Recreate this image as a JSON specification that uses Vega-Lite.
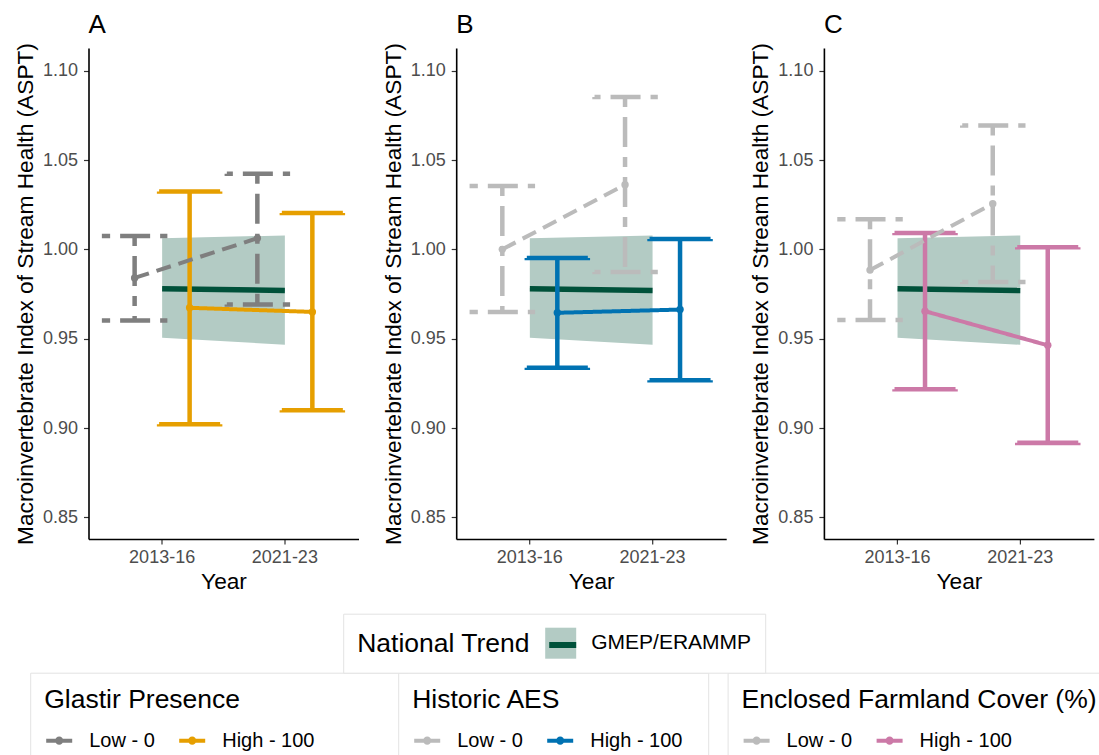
{
  "$schema": "https://vega.github.io/schema/vega-lite/v6.json",
  "background": "white",
  "padding": {"left": 13.5, "top": 12, "right": 0, "bottom": 0},
  "bounds": "flush",
  "spacing": 97.7,
  "config": {
    "font": "Liberation Sans",
    "view": {"stroke": null},
    "axis": {
      "grid": false,
      "domainColor": "#000000",
      "domainWidth": 1.6,
      "tickColor": "#333333",
      "tickWidth": 1.2,
      "tickSize": 5,
      "labelColor": "#4D4D4D",
      "labelFontSize": 18,
      "labelFont": "Liberation Sans",
      "titleFont": "Liberation Sans",
      "titleFontSize": 22.7,
      "titleFontWeight": "normal",
      "titleColor": "#000000"
    },
    "axisX": {"labelPadding": 4, "titlePadding": 4, "labelAngle": 0},
    "axisY": {"labelPadding": 6, "titlePadding": 5},
    "title": {"fontSize": 26, "fontWeight": "normal", "anchor": "start", "frame": "group", "color": "#000000", "font": "Liberation Sans", "offset": 4.3},
    "legend": {
      "titleFont": "Liberation Sans",
      "labelFont": "Liberation Sans",
      "titleFontWeight": "normal",
      "titleColor": "#000000",
      "labelColor": "#000000",
      "titleFontSize": 26.5,
      "labelFontSize": 20,
      "titleLimit": 600,
      "labelLimit": 500,
      "padding": 14,
      "strokeColor": "#E3E3E3",
      "fillColor": "#FFFFFF",
      "labelOffset": 15,
      "columnPadding": 16,
      "titlePadding": 12,
      "symbolStrokeWidth": 4
    }
  },
  "datasets": {
    "national": [
      {"year": "2013-16", "mean": 0.978, "lo": 0.9506, "hi": 1.0062, "trend": "GMEP/ERAMMP"},
      {"year": "2021-23", "mean": 0.977, "lo": 0.9466, "hi": 1.0078, "trend": "GMEP/ERAMMP"}
    ],
    "glastir": [
      {"year": "2013-16", "level": "Low - 0", "mean": 0.984, "lo": 0.9602, "hi": 1.0075},
      {"year": "2021-23", "level": "Low - 0", "mean": 1.0062, "lo": 0.9692, "hi": 1.0423},
      {"year": "2013-16", "level": "High - 100", "mean": 0.9673, "lo": 0.9021, "hi": 1.0324},
      {"year": "2021-23", "level": "High - 100", "mean": 0.965, "lo": 0.9099, "hi": 1.0203}
    ],
    "aes": [
      {"year": "2013-16", "level": "Low - 0", "mean": 1.0, "lo": 0.965, "hi": 1.0354},
      {"year": "2021-23", "level": "Low - 0", "mean": 1.0362, "lo": 0.9874, "hi": 1.0853},
      {"year": "2013-16", "level": "High - 100", "mean": 0.9645, "lo": 0.9338, "hi": 0.9952},
      {"year": "2021-23", "level": "High - 100", "mean": 0.9663, "lo": 0.9268, "hi": 1.0058}
    ],
    "farmland": [
      {"year": "2013-16", "level": "Low - 0", "mean": 0.9884, "lo": 0.9605, "hi": 1.0168},
      {"year": "2021-23", "level": "Low - 0", "mean": 1.0256, "lo": 0.9818, "hi": 1.0693},
      {"year": "2013-16", "level": "High - 100", "mean": 0.9654, "lo": 0.9217, "hi": 1.0092},
      {"year": "2021-23", "level": "High - 100", "mean": 0.9463, "lo": 0.8917, "hi": 1.0012}
    ]
  },
  "resolve": {
    "scale": {"color": "independent", "strokeDash": "independent", "fill": "shared", "stroke": "shared"},
    "legend": {"color": "independent", "strokeDash": "independent"}
  },
  "hconcat": [
    {
      "width": 270,
      "height": 491,
      "title": {"text": "A"},
      "resolve": {"scale": {"strokeDash": "independent"}},
      "layer": [
        {
          "data": {"name": "national"},
          "mark": {"type": "area", "opacity": 1},
          "encoding": {
            "x": {"field": "year", "type": "ordinal", "sort": ["2013-16", "2021-23"], "scale": {"type": "band", "paddingInner": 0, "paddingOuter": 0.1}, "axis": {"bandPosition": 0.5}, "title": "Year"},
            "y": {"field": "lo", "type": "quantitative", "scale": {"domain": [0.8379, 1.1127], "nice": false, "zero": false}, "axis": {"values": [0.85, 0.9, 0.95, 1.0, 1.05, 1.1], "format": ".2f"}, "title": "Macroinvertebrate Index of Stream Health (ASPT)"},
            "y2": {"field": "hi"},
            "fill": {"field": "trend", "type": "nominal", "scale": {"range": ["#B3CBC4"]}, "legend": {"title": "National Trend", "orient": "none", "legendX": 254.7, "legendY": 565.7, "titleOrient": "left", "titleAnchor": "middle", "titleBaseline": "middle", "titlePadding": 15, "symbolType": "square", "symbolSize": 961, "symbolStrokeWidth": 0, "labelFontSize": 21, "zindex": 1}}
          }
        },
        {
          "data": {"name": "national"},
          "mark": {"type": "line", "strokeWidth": 5.5, "opacity": 1},
          "encoding": {
            "x": {"field": "year", "type": "ordinal", "sort": ["2013-16", "2021-23"], "title": "Year"},
            "y": {"field": "mean", "type": "quantitative", "title": "Macroinvertebrate Index of Stream Health (ASPT)"},
            "stroke": {"datum": "GMEP/ERAMMP", "type": "nominal", "scale": {"range": ["#00513A"]}, "legend": {"title": null, "orient": "none", "legendX": 457.7, "legendY": 580.5, "padding": 0, "strokeColor": "transparent", "fillColor": "transparent", "symbolType": "stroke", "symbolSize": 729, "symbolStrokeWidth": 6, "labelExpr": "''", "zindex": 2}}
          }
        },
        {
          "data": {"name": "glastir"},
          "mark": {"type": "rule", "strokeWidth": 4.5, "opacity": 1},
          "encoding": {
            "x": {"field": "year", "type": "ordinal", "sort": ["2013-16", "2021-23"], "title": "Year"},
            "xOffset": {"field": "level", "type": "nominal", "sort": ["Low - 0", "High - 100"], "scale": {"type": "band", "range": [6.35, 116.35], "paddingInner": 0, "paddingOuter": 0}},
            "y": {"field": "hi", "type": "quantitative", "title": "Macroinvertebrate Index of Stream Health (ASPT)"},
            "y2": {"field": "lo"},
            "color": {"field": "level", "type": "nominal", "scale": {"domain": ["Low - 0", "High - 100"], "range": ["#7F7F7F", "#E69F00"]}, "legend": {"title": "Glastir Presence", "orient": "none", "legendX": -58.3, "legendY": 624.7, "direction": "horizontal", "symbolType": "M-1,0H1M-0.16,0A0.16,0.16,0,1,1,0.16,0A0.16,0.16,0,1,1,-0.16,0Z", "symbolSize": 676, "labelExpr": "datum.label == 'High - 100' ? datum.label + '\u00a0\u00a0\u00a0\u00a0\u00a0\u00a0\u00a0\u00a0\u00a0\u00a0\u00a0\u00a0\u00a0\u00a0\u200b' : datum.label"}},
            "strokeDash": {"field": "level", "type": "nominal", "scale": {"domain": ["Low - 0", "High - 100"], "range": [[10, 10, 30, 10], [1, 0]]}, "legend": null}
          }
        },
        {
          "data": {"name": "glastir"},
          "mark": {"type": "tick", "filled": false, "size": 61, "thickness": 0.01, "strokeWidth": 4.5, "strokeDashOffset": 4, "opacity": 1},
          "encoding": {
            "x": {"field": "year", "type": "ordinal", "sort": ["2013-16", "2021-23"], "title": "Year"},
            "xOffset": {"field": "level", "type": "nominal", "sort": ["Low - 0", "High - 100"]},
            "y": {"field": "hi", "type": "quantitative", "title": "Macroinvertebrate Index of Stream Health (ASPT)"},
            "color": {"field": "level", "type": "nominal"},
            "strokeDash": {"field": "level", "type": "nominal", "scale": {"domain": ["Low - 0", "High - 100"], "range": [[10, 10, 30, 10], [1, 0]]}, "legend": null}
          }
        },
        {
          "data": {"name": "glastir"},
          "mark": {"type": "tick", "filled": false, "size": 61, "thickness": 0.01, "strokeWidth": 4.5, "strokeDashOffset": 4, "opacity": 1},
          "encoding": {
            "x": {"field": "year", "type": "ordinal", "sort": ["2013-16", "2021-23"], "title": "Year"},
            "xOffset": {"field": "level", "type": "nominal", "sort": ["Low - 0", "High - 100"]},
            "y": {"field": "lo", "type": "quantitative", "title": "Macroinvertebrate Index of Stream Health (ASPT)"},
            "color": {"field": "level", "type": "nominal"},
            "strokeDash": {"field": "level", "type": "nominal", "scale": {"domain": ["Low - 0", "High - 100"], "range": [[10, 10, 30, 10], [1, 0]]}, "legend": null}
          }
        },
        {
          "data": {"name": "glastir"},
          "mark": {"type": "line", "strokeWidth": 4, "opacity": 1},
          "encoding": {
            "x": {"field": "year", "type": "ordinal", "sort": ["2013-16", "2021-23"], "title": "Year"},
            "xOffset": {"field": "level", "type": "nominal", "sort": ["Low - 0", "High - 100"]},
            "y": {"field": "mean", "type": "quantitative", "title": "Macroinvertebrate Index of Stream Health (ASPT)"},
            "color": {"field": "level", "type": "nominal"},
            "strokeDash": {"field": "level", "type": "nominal", "scale": {"domain": ["Low - 0", "High - 100"], "range": [[15, 8], [1, 0]]}, "legend": null}
          }
        },
        {
          "data": {"name": "glastir"},
          "mark": {"type": "point", "filled": true, "size": 55, "opacity": 1},
          "encoding": {
            "x": {"field": "year", "type": "ordinal", "sort": ["2013-16", "2021-23"], "title": "Year"},
            "xOffset": {"field": "level", "type": "nominal", "sort": ["Low - 0", "High - 100"]},
            "y": {"field": "mean", "type": "quantitative", "title": "Macroinvertebrate Index of Stream Health (ASPT)"},
            "color": {"field": "level", "type": "nominal"}
          }
        }
      ]
    },
    {
      "width": 270,
      "height": 491,
      "title": {"text": "B"},
      "resolve": {"scale": {"strokeDash": "independent"}},
      "layer": [
        {
          "data": {"name": "national"},
          "mark": {"type": "area", "opacity": 1},
          "encoding": {
            "x": {"field": "year", "type": "ordinal", "sort": ["2013-16", "2021-23"], "scale": {"type": "band", "paddingInner": 0, "paddingOuter": 0.1}, "axis": {"bandPosition": 0.5}, "title": "Year"},
            "y": {"field": "lo", "type": "quantitative", "scale": {"domain": [0.8379, 1.1127], "nice": false, "zero": false}, "axis": {"values": [0.85, 0.9, 0.95, 1.0, 1.05, 1.1], "format": ".2f"}, "title": "Macroinvertebrate Index of Stream Health (ASPT)"},
            "y2": {"field": "hi"},
            "fill": {"field": "trend", "type": "nominal", "scale": {"range": ["#B3CBC4"]}, "legend": {"title": "National Trend", "orient": "none", "legendX": 254.7, "legendY": 565.7, "titleOrient": "left", "titleAnchor": "middle", "titleBaseline": "middle", "titlePadding": 15, "symbolType": "square", "symbolSize": 961, "symbolStrokeWidth": 0, "labelFontSize": 21, "zindex": 1}}
          }
        },
        {
          "data": {"name": "national"},
          "mark": {"type": "line", "strokeWidth": 5.5, "opacity": 1},
          "encoding": {
            "x": {"field": "year", "type": "ordinal", "sort": ["2013-16", "2021-23"], "title": "Year"},
            "y": {"field": "mean", "type": "quantitative", "title": "Macroinvertebrate Index of Stream Health (ASPT)"},
            "stroke": {"datum": "GMEP/ERAMMP", "type": "nominal", "scale": {"range": ["#00513A"]}, "legend": {"title": null, "orient": "none", "legendX": 457.7, "legendY": 580.5, "padding": 0, "strokeColor": "transparent", "fillColor": "transparent", "symbolType": "stroke", "symbolSize": 729, "symbolStrokeWidth": 6, "labelExpr": "''", "zindex": 2}}
          }
        },
        {
          "data": {"name": "aes"},
          "mark": {"type": "rule", "strokeWidth": 4.5, "opacity": 1},
          "encoding": {
            "x": {"field": "year", "type": "ordinal", "sort": ["2013-16", "2021-23"], "title": "Year"},
            "xOffset": {"field": "level", "type": "nominal", "sort": ["Low - 0", "High - 100"], "scale": {"type": "band", "range": [6.35, 116.35], "paddingInner": 0, "paddingOuter": 0}},
            "y": {"field": "hi", "type": "quantitative", "title": "Macroinvertebrate Index of Stream Health (ASPT)"},
            "y2": {"field": "lo"},
            "color": {"field": "level", "type": "nominal", "scale": {"domain": ["Low - 0", "High - 100"], "range": ["#BBBBBB", "#0072B2"]}, "legend": {"title": "Historic AES", "orient": "none", "legendX": -58, "legendY": 624.7, "direction": "horizontal", "symbolType": "M-1,0H1M-0.16,0A0.16,0.16,0,1,1,0.16,0A0.16,0.16,0,1,1,-0.16,0Z", "symbolSize": 676, "labelExpr": "datum.label == 'High - 100' ? datum.label + '\u00a0\u00a0\u200b' : datum.label"}},
            "strokeDash": {"field": "level", "type": "nominal", "scale": {"domain": ["Low - 0", "High - 100"], "range": [[10, 10, 30, 10], [1, 0]]}, "legend": null}
          }
        },
        {
          "data": {"name": "aes"},
          "mark": {"type": "tick", "filled": false, "size": 61, "thickness": 0.01, "strokeWidth": 4.5, "strokeDashOffset": 4, "opacity": 1},
          "encoding": {
            "x": {"field": "year", "type": "ordinal", "sort": ["2013-16", "2021-23"], "title": "Year"},
            "xOffset": {"field": "level", "type": "nominal", "sort": ["Low - 0", "High - 100"]},
            "y": {"field": "hi", "type": "quantitative", "title": "Macroinvertebrate Index of Stream Health (ASPT)"},
            "color": {"field": "level", "type": "nominal"},
            "strokeDash": {"field": "level", "type": "nominal", "scale": {"domain": ["Low - 0", "High - 100"], "range": [[10, 10, 30, 10], [1, 0]]}, "legend": null}
          }
        },
        {
          "data": {"name": "aes"},
          "mark": {"type": "tick", "filled": false, "size": 61, "thickness": 0.01, "strokeWidth": 4.5, "strokeDashOffset": 4, "opacity": 1},
          "encoding": {
            "x": {"field": "year", "type": "ordinal", "sort": ["2013-16", "2021-23"], "title": "Year"},
            "xOffset": {"field": "level", "type": "nominal", "sort": ["Low - 0", "High - 100"]},
            "y": {"field": "lo", "type": "quantitative", "title": "Macroinvertebrate Index of Stream Health (ASPT)"},
            "color": {"field": "level", "type": "nominal"},
            "strokeDash": {"field": "level", "type": "nominal", "scale": {"domain": ["Low - 0", "High - 100"], "range": [[10, 10, 30, 10], [1, 0]]}, "legend": null}
          }
        },
        {
          "data": {"name": "aes"},
          "mark": {"type": "line", "strokeWidth": 4, "opacity": 1},
          "encoding": {
            "x": {"field": "year", "type": "ordinal", "sort": ["2013-16", "2021-23"], "title": "Year"},
            "xOffset": {"field": "level", "type": "nominal", "sort": ["Low - 0", "High - 100"]},
            "y": {"field": "mean", "type": "quantitative", "title": "Macroinvertebrate Index of Stream Health (ASPT)"},
            "color": {"field": "level", "type": "nominal"},
            "strokeDash": {"field": "level", "type": "nominal", "scale": {"domain": ["Low - 0", "High - 100"], "range": [[15, 8], [1, 0]]}, "legend": null}
          }
        },
        {
          "data": {"name": "aes"},
          "mark": {"type": "point", "filled": true, "size": 55, "opacity": 1},
          "encoding": {
            "x": {"field": "year", "type": "ordinal", "sort": ["2013-16", "2021-23"], "title": "Year"},
            "xOffset": {"field": "level", "type": "nominal", "sort": ["Low - 0", "High - 100"]},
            "y": {"field": "mean", "type": "quantitative", "title": "Macroinvertebrate Index of Stream Health (ASPT)"},
            "color": {"field": "level", "type": "nominal"}
          }
        }
      ]
    },
    {
      "width": 270,
      "height": 491,
      "title": {"text": "C"},
      "resolve": {"scale": {"strokeDash": "independent"}},
      "layer": [
        {
          "data": {"name": "national"},
          "mark": {"type": "area", "opacity": 1},
          "encoding": {
            "x": {"field": "year", "type": "ordinal", "sort": ["2013-16", "2021-23"], "scale": {"type": "band", "paddingInner": 0, "paddingOuter": 0.1}, "axis": {"bandPosition": 0.5}, "title": "Year"},
            "y": {"field": "lo", "type": "quantitative", "scale": {"domain": [0.8379, 1.1127], "nice": false, "zero": false}, "axis": {"values": [0.85, 0.9, 0.95, 1.0, 1.05, 1.1], "format": ".2f"}, "title": "Macroinvertebrate Index of Stream Health (ASPT)"},
            "y2": {"field": "hi"},
            "fill": {"field": "trend", "type": "nominal", "scale": {"range": ["#B3CBC4"]}, "legend": {"title": "National Trend", "orient": "none", "legendX": 254.7, "legendY": 565.7, "titleOrient": "left", "titleAnchor": "middle", "titleBaseline": "middle", "titlePadding": 15, "symbolType": "square", "symbolSize": 961, "symbolStrokeWidth": 0, "labelFontSize": 21, "zindex": 1}}
          }
        },
        {
          "data": {"name": "national"},
          "mark": {"type": "line", "strokeWidth": 5.5, "opacity": 1},
          "encoding": {
            "x": {"field": "year", "type": "ordinal", "sort": ["2013-16", "2021-23"], "title": "Year"},
            "y": {"field": "mean", "type": "quantitative", "title": "Macroinvertebrate Index of Stream Health (ASPT)"},
            "stroke": {"datum": "GMEP/ERAMMP", "type": "nominal", "scale": {"range": ["#00513A"]}, "legend": {"title": null, "orient": "none", "legendX": 457.7, "legendY": 580.5, "padding": 0, "strokeColor": "transparent", "fillColor": "transparent", "symbolType": "stroke", "symbolSize": 729, "symbolStrokeWidth": 6, "labelExpr": "''", "zindex": 2}}
          }
        },
        {
          "data": {"name": "farmland"},
          "mark": {"type": "rule", "strokeWidth": 4.5, "opacity": 1},
          "encoding": {
            "x": {"field": "year", "type": "ordinal", "sort": ["2013-16", "2021-23"], "title": "Year"},
            "xOffset": {"field": "level", "type": "nominal", "sort": ["Low - 0", "High - 100"], "scale": {"type": "band", "range": [6.35, 116.35], "paddingInner": 0, "paddingOuter": 0}},
            "y": {"field": "hi", "type": "quantitative", "title": "Macroinvertebrate Index of Stream Health (ASPT)"},
            "y2": {"field": "lo"},
            "color": {"field": "level", "type": "nominal", "scale": {"domain": ["Low - 0", "High - 100"], "range": ["#BBBBBB", "#CC79A7"]}, "legend": {"title": "Enclosed Farmland Cover (%)", "orient": "none", "legendX": -96.3, "legendY": 624.7, "direction": "horizontal", "symbolType": "M-1,0H1M-0.16,0A0.16,0.16,0,1,1,0.16,0A0.16,0.16,0,1,1,-0.16,0Z", "symbolSize": 676}},
            "strokeDash": {"field": "level", "type": "nominal", "scale": {"domain": ["Low - 0", "High - 100"], "range": [[10, 10, 30, 10], [1, 0]]}, "legend": null}
          }
        },
        {
          "data": {"name": "farmland"},
          "mark": {"type": "tick", "filled": false, "size": 61, "thickness": 0.01, "strokeWidth": 4.5, "strokeDashOffset": 4, "opacity": 1},
          "encoding": {
            "x": {"field": "year", "type": "ordinal", "sort": ["2013-16", "2021-23"], "title": "Year"},
            "xOffset": {"field": "level", "type": "nominal", "sort": ["Low - 0", "High - 100"]},
            "y": {"field": "hi", "type": "quantitative", "title": "Macroinvertebrate Index of Stream Health (ASPT)"},
            "color": {"field": "level", "type": "nominal"},
            "strokeDash": {"field": "level", "type": "nominal", "scale": {"domain": ["Low - 0", "High - 100"], "range": [[10, 10, 30, 10], [1, 0]]}, "legend": null}
          }
        },
        {
          "data": {"name": "farmland"},
          "mark": {"type": "tick", "filled": false, "size": 61, "thickness": 0.01, "strokeWidth": 4.5, "strokeDashOffset": 4, "opacity": 1},
          "encoding": {
            "x": {"field": "year", "type": "ordinal", "sort": ["2013-16", "2021-23"], "title": "Year"},
            "xOffset": {"field": "level", "type": "nominal", "sort": ["Low - 0", "High - 100"]},
            "y": {"field": "lo", "type": "quantitative", "title": "Macroinvertebrate Index of Stream Health (ASPT)"},
            "color": {"field": "level", "type": "nominal"},
            "strokeDash": {"field": "level", "type": "nominal", "scale": {"domain": ["Low - 0", "High - 100"], "range": [[10, 10, 30, 10], [1, 0]]}, "legend": null}
          }
        },
        {
          "data": {"name": "farmland"},
          "mark": {"type": "line", "strokeWidth": 4, "opacity": 1},
          "encoding": {
            "x": {"field": "year", "type": "ordinal", "sort": ["2013-16", "2021-23"], "title": "Year"},
            "xOffset": {"field": "level", "type": "nominal", "sort": ["Low - 0", "High - 100"]},
            "y": {"field": "mean", "type": "quantitative", "title": "Macroinvertebrate Index of Stream Health (ASPT)"},
            "color": {"field": "level", "type": "nominal"},
            "strokeDash": {"field": "level", "type": "nominal", "scale": {"domain": ["Low - 0", "High - 100"], "range": [[15, 8], [1, 0]]}, "legend": null}
          }
        },
        {
          "data": {"name": "farmland"},
          "mark": {"type": "point", "filled": true, "size": 55, "opacity": 1},
          "encoding": {
            "x": {"field": "year", "type": "ordinal", "sort": ["2013-16", "2021-23"], "title": "Year"},
            "xOffset": {"field": "level", "type": "nominal", "sort": ["Low - 0", "High - 100"]},
            "y": {"field": "mean", "type": "quantitative", "title": "Macroinvertebrate Index of Stream Health (ASPT)"},
            "color": {"field": "level", "type": "nominal"}
          }
        }
      ]
    }
  ]
}
